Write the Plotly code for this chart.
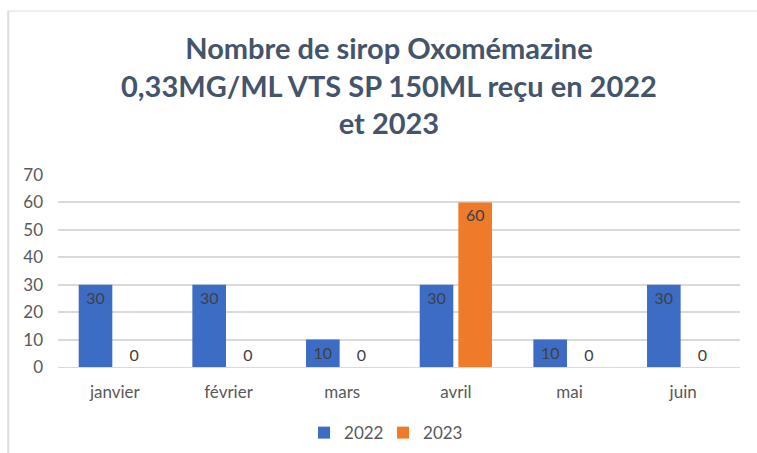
import plotly.graph_objects as go

mois = ['janvier', 'février', 'mars', 'avril', 'mai', 'juin']
val_2022 = [30, 30, 10, 30, 10, 30]
val_2023 = [0, 0, 0, 60, 0, 0]
y_ticks = [0, 10, 20, 30, 40, 50, 60, 70]

titre = ('<b>Nombre de sirop Oxomémazine<br>0,33MG/ML VTS SP 150ML reçu en 2022'
         '<br>et 2023</b>')

def positions(vals):
    return ['outside' if v == 0 else 'inside' for v in vals]

fig = go.Figure()
fig.add_trace(go.Bar(name='2022', x=mois, y=val_2022, text=val_2022,
                     textposition=positions(val_2022), insidetextanchor='end',
                     marker=dict(color='#3D6CC4', line=dict(width=0))))
fig.add_trace(go.Bar(name='2023', x=mois, y=val_2023, text=val_2023,
                     textposition=positions(val_2023), insidetextanchor='end',
                     marker=dict(color='#EE7A2A', line=dict(width=0))))

fig.update_traces(textfont=dict(color='#404040', size=16, family='Lato'),
                  cliponaxis=False)

fig.update_layout(
    width=757, height=453,
    margin=dict(l=58, r=17, t=175, b=86),
    paper_bgcolor='white', plot_bgcolor='white',
    font=dict(family='Lato', color='#595959', size=16),
    barmode='group', bargap=0.32, bargroupgap=0.13,
    showlegend=True,
    legend=dict(orientation='h', x=0.506, xanchor='center', xref='container',
                y=0.044, yanchor='middle', yref='container',
                font=dict(size=17, color='#595959'), itemwidth=30,
                entrywidth=34, entrywidthmode='pixels'),
    xaxis=dict(showline=True, linecolor='#D9D9D9', linewidth=1, ticks='',
               tickfont=dict(size=17), automargin=False, ticklabelstandoff=10),
    yaxis=dict(range=[0, 70], tickvals=y_ticks, gridcolor='#D9D9D9', gridwidth=1.5,
               zeroline=False, ticks='', tickfont=dict(size=17), automargin=False,
               ticklabelstandoff=14),
)

fig.add_annotation(text=titre, xref='paper', yref='paper', x=0.485, y=1.47,
                   xanchor='center', yanchor='middle', showarrow=False,
                   font=dict(family='Lato', size=29, color='#44546A'))

# bordure grise du cadre (gauche et haut)
fig.add_shape(type='line', xref='paper', yref='paper', x0=-0.073, x1=-0.073,
              y0=-0.5, y1=1.854, line=dict(color='#DADCE3', width=2))
fig.add_shape(type='line', xref='paper', yref='paper', x0=-0.073, x1=1.03,
              y0=1.854, y1=1.854, line=dict(color='#DADCE3', width=1))

fig.write_html("out.html", config={'displayModeBar': False},
               post_script="document.body.style.margin='0';")
